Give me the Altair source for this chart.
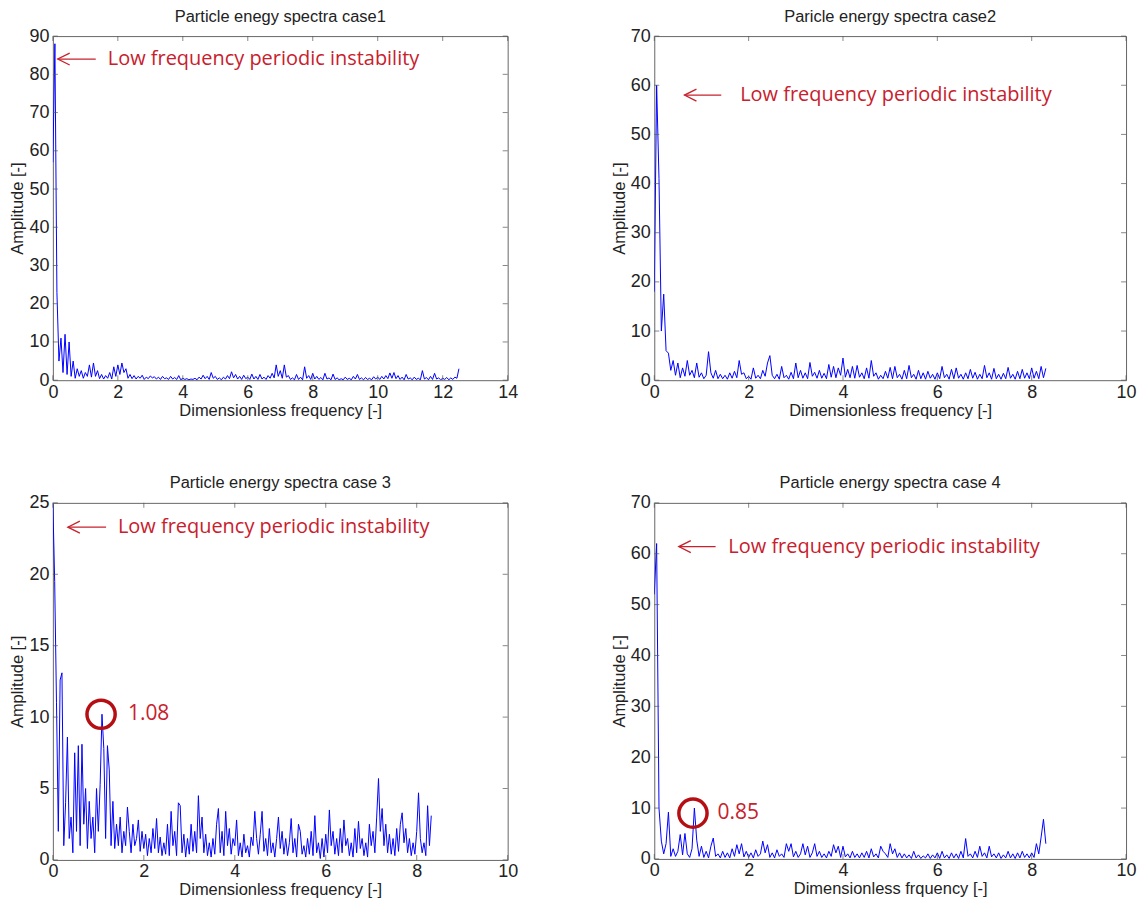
import altair as alt
import pandas as pd

# ---------------- data ----------------
titles = [
    "Particle enegy spectra case1",
    "Paricle energy spectra case2",
    "Particle energy spectra case 3",
    "Particle energy spectra case 4",
]
x_titles = [
    "Dimensionless frequency [-]",
    "Dimensionless frequency [-]",
    "Dimensionless frequency [-]",
    "Dimensionless frquency [-]",
]
y_title = "Amplitude [-]"

x_max = [14, 10, 10, 10]
y_max = [90, 70, 25, 70]
x_ticks = [[0, 2, 4, 6, 8, 10, 12, 14], [0, 2, 4, 6, 8, 10], [0, 2, 4, 6, 8, 10], [0, 2, 4, 6, 8, 10]]
y_ticks = [[0, 10, 20, 30, 40, 50, 60, 70, 80, 90],
           [0, 10, 20, 30, 40, 50, 60, 70],
           [0, 5, 10, 15, 20, 25],
           [0, 10, 20, 30, 40, 50, 60, 70]]

# frequency resolution of each spectrum
freq_step = [0.0625, 0.05, 0.04, 0.05]

amp_case1 = [
    57, 88, 23, 5, 11, 2, 12, 1.5, 10, 1,
    5, 0.5, 3, 1, 2.5, 0.5, 2, 1, 4, 0.8,
    4.5, 1, 2.5, 0.4, 1.5, 0.3, 1.2, 0.5, 2, 0.3,
    3.5, 1, 4, 1.5, 4.5, 2, 3, 0.5, 1.5, 0.4,
    1.2, 0.3, 1, 0.5, 1.3, 0.2, 0.8, 0.4, 1.1, 0.6,
    0.9, 0.3, 0.8, 0.2, 1, 0.4, 0.6, 0.2, 1, 0.3,
    0.7, 0.2, 1.2, 0.1, 0.5, 0.2, 0.4, 0.1, 0.3, 0.2,
    0.5, 0.1, 0.8, 0.3, 1.3, 0.4, 1, 0.2, 2, 0.5,
    1, 0.2, 0.6, 0.1, 0.8, 0.3, 1.2, 0.4, 2.2, 0.6,
    1.5, 0.3, 1, 0.2, 1.3, 0.4, 0.8, 0.2, 1.6, 0.3,
    1, 0.2, 1.5, 0.3, 0.8, 0.2, 1.2, 0.5, 1.8, 0.6,
    4, 1, 2.5, 0.5, 4, 0.8, 1.2, 0.2, 0.6, 0.1,
    1.5, 0.2, 0.8, 0.1, 3.5, 0.5, 1.2, 0.2, 1.8, 0.3,
    1, 0.2, 0.7, 0.1, 1.8, 0.3, 0.6, 0.1, 1.6, 0.2,
    0.6, 0.1, 0.4, 0.1, 0.8, 0.2, 0.5, 0.1, 1, 0.3,
    1.5, 0.2, 0.6, 0.1, 0.7, 0.2, 0.5, 0.1, 0.9, 0.3,
    0.8, 0.2, 1, 0.3, 1.2, 0.4, 1.9, 0.5, 2, 0.4,
    1.2, 0.2, 0.8, 0.1, 1.5, 0.3, 0.6, 0.1, 0.8, 0.2,
    0.5, 0.1, 2.5, 0.3, 0.7, 0.1, 1, 0.2, 1.8, 0.3,
    0.6, 0.1, 0.5, 0.2, 0.7, 0.1, 0.6, 0.2, 0.8, 0.5,
    3,
]

amp_case2 = [
    18, 60, 41, 10, 17.5, 6, 5.5, 2, 4, 1,
    3.5, 0.5, 2.5, 0.8, 4, 1, 2, 0.5, 3.5, 0.6,
    1.5, 0.3, 1, 5.8, 1.5, 0.4, 2, 0.3, 1.2, 0.3,
    1, 0.2, 1.5, 0.4, 1.8, 0.5, 4, 1.2, 1.5, 0.3,
    0.8, 0.2, 2.5, 0.4, 1, 0.3, 2, 0.8, 3.5, 5,
    1, 0.3, 1.2, 0.2, 2.8, 0.5, 1, 0.2, 1.6, 0.3,
    3.5, 0.5, 2, 0.4, 1.5, 0.3, 3.6, 0.8, 1.6, 0.4,
    2, 0.4, 1.4, 0.3, 3.2, 0.6, 2.8, 0.5, 2.5, 1,
    4.5, 0.6, 2.2, 0.5, 2.8, 0.4, 3, 0.6, 1.5, 0.3,
    2.5, 0.4, 4, 0.8, 1.5, 0.2, 1, 0.3, 1.8, 0.4,
    2.6, 0.3, 2.8, 0.5, 1.2, 0.2, 2, 0.3, 3, 0.5,
    1.2, 0.2, 2, 0.3, 1.5, 0.2, 1.8, 0.4, 1.2, 0.2,
    1.5, 0.3, 2.8, 0.5, 1.2, 0.2, 2.2, 0.3, 2.5, 0.4,
    1.2, 0.2, 1.5, 0.3, 2.2, 0.4, 1.6, 0.2, 1.2, 0.3,
    3, 0.5, 1.5, 0.2, 2.4, 0.3, 1.2, 0.2, 1.4, 0.3,
    2.6, 0.4, 1.2, 0.2, 1.8, 0.3, 2.2, 0.4, 1.5, 0.3,
    2.5, 0.4, 1.8, 0.3, 2.8, 0.5, 2.4,
]

amp_case3 = [
    25, 19.5, 11, 2, 12.6, 13.1, 1, 4, 8.6, 1.5,
    3, 0.5, 7.5, 2, 8, 1, 8.1, 2.5, 5, 0.8,
    4.1, 1.5, 3, 0.5, 5, 2, 5.3, 10.2, 7.8, 1.5,
    8, 6.3, 1, 4.1, 0.8, 2.5, 1, 3, 0.5, 2,
    1, 3.7, 2, 0.5, 2.5, 1, 1.5, 2.8, 0.6, 2,
    0.8, 1.8, 0.3, 1.5, 0.5, 2.2, 0.8, 2.9, 0.5, 1.6,
    0.3, 1.2, 0.4, 2.5, 0.3, 3.4, 1, 2, 0.3, 4,
    3.8, 0.5, 1.8, 0.2, 1.5, 0.4, 2.5, 0.6, 2, 0.5,
    4.5, 1.5, 3, 0.5, 1.8, 0.3, 1.2, 0.2, 1.5, 0.4,
    2.5, 3.6, 0.5, 2, 0.3, 3.4, 1, 2.2, 0.4, 1.5,
    1, 2.8, 0.3, 1.2, 0.2, 1.8, 0.5, 1, 0.2, 1.6,
    1, 3.4, 1.5, 0.4, 1.8, 3.4, 0.6, 1.5, 0.3, 2.2,
    0.5, 1.2, 0.2, 1.5, 3, 0.8, 2, 0.4, 1.5, 0.3,
    1.2, 2.9, 0.5, 1.5, 0.2, 2.5, 2, 0.4, 1, 0.2,
    1.5, 0.4, 2, 0.3, 3.1, 0.5, 1.2, 0.1, 1.5, 0.2,
    1.8, 0.5, 3.5, 1, 2, 0.4, 1.5, 0.3, 2.2, 0.5,
    2.8, 1, 1.5, 0.3, 1.2, 0.2, 2.2, 0.5, 2.7, 0.8,
    1.5, 0.3, 1.2, 0.2, 2.5, 1, 2, 0.5, 3, 5.7,
    2, 3.6, 1, 2.5, 0.5, 1.8, 0.4, 1.5, 0.3, 2.2,
    0.6, 2.5, 3.3, 1.2, 2.2, 0.5, 1.5, 0.3, 1.2, 0.4,
    2, 4.7, 1.5, 0.5, 1.2, 0.3, 3.8, 1, 3.1,
]

amp_case4 = [
    52, 62, 10, 3.5, 1, 3, 9.2, 0.5, 2, 0.5,
    1.5, 4.8, 0.8, 5, 1, 0.3, 2, 10, 3.7, 0.5,
    2.5, 0.3, 1.5, 0.2, 2.5, 4.1, 0.5, 1, 0.2, 1.5,
    0.3, 1.2, 0.2, 2, 0.5, 2.8, 1, 3, 0.4, 1.5,
    0.3, 1.2, 0.2, 1.8, 0.5, 1, 3.5, 1.2, 2.8, 0.3,
    1.2, 0.2, 1.8, 0.5, 1, 0.3, 3, 1.5, 3, 0.4,
    1.5, 0.3, 1, 3, 0.8, 2.5, 0.3, 1.2, 3, 0.5,
    1.5, 0.3, 1, 0.2, 1.5, 0.5, 2.8, 1.2, 2.5, 0.3,
    2.5, 0.4, 1, 0.2, 1.5, 0.3, 1, 0.2, 1.2, 0.3,
    1.5, 0.2, 2, 0.4, 1, 0.2, 2.5, 1.5, 1, 0.3,
    3, 1, 2, 0.3, 1.2, 0.2, 1, 0.2, 0.8, 0.1,
    1.5, 0.2, 0.8, 0.1, 0.6, 0.2, 1, 0.1, 0.8, 0.2,
    1.2, 0.1, 1.5, 0.2, 0.8, 0.1, 1.2, 0.2, 1, 0.1,
    1.5, 0.2, 4, 0.5, 1, 0.2, 1.5, 0.3, 2.5, 0.5,
    1.2, 0.2, 2.5, 0.4, 1, 0.2, 1.2, 0.1, 0.8, 0.2,
    1.5, 0.2, 1, 0.1, 1.2, 0.2, 1.5, 0.3, 1, 0.2,
    1.2, 0.3, 3, 1, 4.3, 7.8, 3,
]

amps = [amp_case1, amp_case2, amp_case3, amp_case4]

# annotations (data coordinates)
note_text = "Low frequency periodic instability"
arrow_tip_x = [0.15, 0.64, 0.33, 0.52]
arrow_tail_x = [1.32, 1.42, 1.17, 1.30]
arrow_y = [84, 58, 23.3, 61.4]
note_x = [1.69, 1.82, 1.43, 1.57]
circle_x = [None, None, 1.06, 0.82]
circle_y = [None, None, 10.2, 9.0]
circle_label = [None, None, "1.08", "0.85"]
circle_label_x = [None, None, 1.65, 1.34]

# ---------------- styling ----------------
panel_w = [456, 473, 456, 473]
panel_h = [345, 345, 358, 357]
RED = "#c8202c"
DARK_RED = "#b50f14"
BLUE = "#0000ff"
TICK = "#555555"
FONT = "Liberation Sans"


def panel(k):
    W, H = panel_w[k], panel_h[k]
    amp = amps[k]
    df = pd.DataFrame({"f": [i * freq_step[k] for i in range(len(amp))], "a": amp})
    xs = alt.Scale(domain=[0, x_max[k]], nice=False, zero=False)
    ys = alt.Scale(domain=[0, y_max[k]], nice=False, zero=False)
    xax = alt.Axis(values=x_ticks[k], title=x_titles[k], labelPadding=3,
                   titlePadding=1, labelFlush=False, labelOverlap=False)
    yax = alt.Axis(values=y_ticks[k], title=y_title, labelPadding=4,
                   titlePadding=3, labelFlush=False, labelOverlap=False)

    def X(field):
        return alt.X(field, type="quantitative", scale=xs, axis=xax)

    def Y(field):
        return alt.Y(field, type="quantitative", scale=ys, axis=yax)

    line = alt.Chart(df).mark_line(color=BLUE, strokeWidth=1, clip=True).encode(
        x=X("f"), y=Y("a"))

    xt = pd.DataFrame({"f": x_ticks[k]})
    yt = pd.DataFrame({"a": y_ticks[k]})
    tick_b = alt.Chart(xt).mark_tick(orient="vertical", size=5, thickness=1, color=TICK).encode(
        x=X("f"), y=alt.value(H - 2.5))
    tick_t = alt.Chart(xt).mark_tick(orient="vertical", size=5, thickness=1, color=TICK).encode(
        x=X("f"), y=alt.value(2.5))
    tick_l = alt.Chart(yt).mark_tick(orient="horizontal", size=5, thickness=1, color=TICK).encode(
        y=Y("a"), x=alt.value(2.5))
    tick_r = alt.Chart(yt).mark_tick(orient="horizontal", size=5, thickness=1, color=TICK).encode(
        y=Y("a"), x=alt.value(W - 2.5))

    ann = pd.DataFrame({"f": [arrow_tip_x[k]], "x2": [arrow_tail_x[k]], "a": [arrow_y[k]],
                        "tx": [note_x[k]], "t": [note_text]})
    shaft = alt.Chart(ann).mark_rule(color=RED, strokeWidth=1.3).encode(
        x=X("f"), x2="x2:Q", y=Y("a"))
    head = alt.Chart(ann).mark_point(shape="M 2 -1 L 0 0 L 2 1", size=144, filled=False,
                                     color=RED, strokeWidth=1.3, opacity=1).encode(
        x=X("f"), y=Y("a"))
    note = alt.Chart(ann).mark_text(align="left", baseline="middle", font="Open Sans",
                                    fontSize=20, color=RED).encode(
        x=X("tx"), y=Y("a"), text="t:N")

    layers = [line, tick_b, tick_t, tick_l, tick_r, shaft, head, note]

    if circle_x[k] is not None:
        cdf = pd.DataFrame({"f": [circle_x[k]], "a": [circle_y[k]],
                            "lx": [circle_label_x[k]], "t": [circle_label[k]]})
        ring = alt.Chart(cdf).mark_point(shape="circle", size=800, filled=False, color=DARK_RED,
                                         strokeWidth=3.5, opacity=1).encode(
            x=X("f"), y=Y("a"))
        lab = alt.Chart(cdf).mark_text(align="left", baseline="middle", font="Open Sans",
                                       fontSize=21, color=RED).encode(
            x=X("lx"), y=Y("a"), text="t:N")
        layers += [ring, lab]

    return alt.layer(*layers).properties(
        width=W, height=H,
        title=alt.TitleParams(titles[k], fontSize=16.5, font=FONT, fontWeight="normal",
                              color="#222222", offset=2),
    )


chart = alt.concat(
    panel(0), panel(1), panel(2), panel(3),
    columns=2, spacing={"row": 123, "column": 147}, bounds="flush",
).properties(
    padding={"left": 9, "top": 7, "right": 5, "bottom": 5},
    background="white",
).configure_view(
    stroke="#666666", strokeWidth=1
).configure_axis(
    domain=False, ticks=False, grid=False,
    labelFont=FONT, labelFontSize=18, labelColor="#222222",
    titleFont=FONT, titleFontSize=16.5, titleFontWeight="normal", titleColor="#222222",
)

chart.save("out.html", embed_options={"renderer": "svg", "actions": False})
